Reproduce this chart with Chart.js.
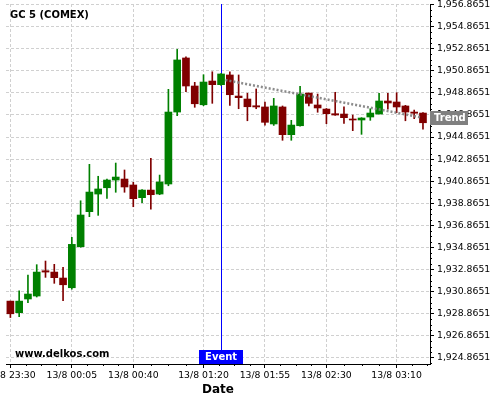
<!DOCTYPE html>
<html>
<head>
<meta charset="utf-8">
<script src="https://cdn.jsdelivr.net/npm/chart.js@4/dist/chart.umd.min.js"></script>
<style>
    html, body { margin: 0; padding: 0; background: #fff; }
    #wrap { width: 500px; height: 400px; }
</style>
</head>
<body>
<div id="wrap"><canvas id="gcChart" width="500" height="400"></canvas></div>
<script>
// 5 minute candles, 12/8 23:30 .. 13/8 03:25
const openVals  = [1930.00, 1928.95, 1930.19, 1930.46, 1932.75, 1932.63, 1932.09, 1931.21, 1934.93, 1938.10,
                   1939.70, 1940.27, 1940.97, 1941.06, 1940.52, 1939.37, 1940.06, 1939.70, 1940.61, 1947.13,
                   1952.03, 1949.49, 1947.79, 1949.94, 1949.61, 1950.49, 1948.58, 1948.31, 1947.70, 1947.59,
                   1946.05, 1947.59, 1945.08, 1945.89, 1948.85, 1947.77, 1947.40, 1946.98, 1946.95, 1946.50,
                   1946.41, 1946.68, 1946.95, 1948.13, 1948.04, 1947.68, 1947.13, 1947.04];
const highVals  = [1930.00, 1930.94, 1932.36, 1933.30, 1933.63, 1933.33, 1933.06, 1935.78, 1939.09, 1942.39,
                   1941.31, 1941.06, 1942.51, 1941.88, 1940.76, 1940.10, 1942.94, 1941.42, 1949.19, 1952.81,
                   1952.14, 1949.82, 1950.51, 1950.78, 1950.62, 1950.78, 1950.49, 1948.83, 1949.22, 1948.04,
                   1948.37, 1947.68, 1946.38, 1949.46, 1948.85, 1948.76, 1947.45, 1948.92, 1947.61, 1946.86,
                   1946.62, 1947.43, 1948.83, 1948.83, 1948.88, 1947.74, 1947.31, 1947.08];
const lowVals   = [1928.51, 1928.58, 1929.85, 1930.37, 1932.15, 1931.61, 1930.03, 1931.07, 1934.87, 1937.65,
                   1937.77, 1939.31, 1939.86, 1939.86, 1938.55, 1938.91, 1938.32, 1939.64, 1940.45, 1946.80,
                   1948.97, 1947.56, 1947.70, 1947.92, 1949.55, 1947.74, 1947.43, 1946.34, 1947.43, 1945.95,
                   1945.92, 1944.57, 1944.57, 1945.84, 1947.68, 1947.11, 1946.07, 1946.83, 1946.11, 1945.44,
                   1945.11, 1946.38, 1946.95, 1947.38, 1947.07, 1946.34, 1946.53, 1945.57];
const closeVals = [1928.85, 1930.00, 1930.64, 1932.63, 1932.63, 1932.12, 1931.48, 1935.14, 1937.80, 1939.88,
                   1940.16, 1940.97, 1941.24, 1940.34, 1939.28, 1940.06, 1939.64, 1940.79, 1947.13, 1951.85,
                   1949.49, 1947.88, 1949.85, 1949.61, 1950.58, 1948.70, 1948.43, 1947.61, 1947.59, 1946.20,
                   1947.68, 1945.08, 1945.95, 1948.76, 1947.92, 1947.50, 1946.98, 1946.86, 1946.62, 1946.41,
                   1946.59, 1947.04, 1948.13, 1947.95, 1947.59, 1947.13, 1947.02, 1946.16];

// x axis labels (candle index -> time)
const xTickIndex  = [0, 7, 14, 22, 29, 36, 44];
const xTickLabels = ['12/8 23:30', '13/8 00:05', '13/8 00:40', '13/8 01:20', '13/8 01:55', '13/8 02:30', '13/8 03:10'];
const xMinorTicks = [1.75, 3.5, 5.25, 8.75, 10.5, 12.25, 16, 18, 20, 23.75, 25.5, 27.25,
                     30.75, 32.5, 34.25, 38, 40, 42, 45.75, 47.5];

const yTicks = [1924.8651, 1926.8651, 1928.8651, 1930.8651, 1932.8651, 1934.8651, 1936.8651, 1938.8651, 1940.8651,
                1942.8651, 1944.8651, 1946.8651, 1948.8651, 1950.8651, 1952.8651, 1954.8651, 1956.8651];
const yMinorStep = 0.5;

// trend line and event marker
const trendX = [24.5, 46.7];
const trendY = [1950.03, 1946.66];
const eventIndex = 24;

const GREEN = '#008000';
const RED = '#800000';
const FONT = "'DejaVu Sans', sans-serif";

const candleColor = ctx => closeVals[ctx.dataIndex] >= openVals[ctx.dataIndex] ? GREEN : RED;

const overlay = {
    id: 'overlay',
    beforeDatasetsDraw(chart) {
        const { ctx, chartArea } = chart;
        const x = Math.round(chart.scales.x.getPixelForValue(eventIndex)) + 0.5;
        ctx.save();
        ctx.strokeStyle = '#0000ff';
        ctx.lineWidth = 1;
        ctx.beginPath();
        ctx.moveTo(x, chartArea.top);
        ctx.lineTo(x, chartArea.bottom - 14);
        ctx.stroke();
        ctx.restore();
    },
    afterDraw(chart) {
        const { ctx, chartArea } = chart;
        const xs = chart.scales.x, ys = chart.scales.y;
        ctx.save();

        // minor ticks
        ctx.strokeStyle = '#000';
        ctx.lineWidth = 1;
        ctx.beginPath();
        xMinorTicks.forEach(v => {
            const px = Math.round(xs.getPixelForValue(v)) + 0.5;
            ctx.moveTo(px, chartArea.bottom);
            ctx.lineTo(px, chartArea.bottom + 2);
        });
        for (let v = yTicks[0] - yMinorStep; v <= ys.max; v += yMinorStep) {
            if (v < ys.min) continue;
            if (yTicks.some(t => Math.abs(t - v) < 1e-6)) continue;
            const py = Math.round(ys.getPixelForValue(v)) + 0.5;
            ctx.moveTo(chartArea.right, py);
            ctx.lineTo(chartArea.right + 2, py);
        }
        ctx.stroke();

        // title + watermark
        ctx.fillStyle = '#000';
        ctx.font = 'bold 10px ' + FONT;
        ctx.textBaseline = 'middle';
        ctx.textAlign = 'left';
        ctx.fillText('GC 5 (COMEX)', 10, 15.5);
        ctx.fillText('www.delkos.com', 15, 354);

        // event label
        const ex = xs.getPixelForValue(eventIndex);
        ctx.fillStyle = '#0000ff';
        ctx.fillRect(Math.round(ex - 22), chartArea.bottom - 14, 44, 14);
        ctx.fillStyle = '#fff';
        ctx.textAlign = 'center';
        ctx.fillText('Event', ex, chartArea.bottom - 7);

        // trend label
        const ty = ys.getPixelForValue(trendY[trendY.length - 1]);
        ctx.fillStyle = '#808080';
        ctx.fillRect(chartArea.right, Math.round(ty - 6), 38, 14);
        ctx.fillStyle = '#fff';
        ctx.textAlign = 'left';
        ctx.fillText('Trend', chartArea.right + 4, ty + 1);

        ctx.restore();
    }
};

document.addEventListener('DOMContentLoaded', function () {
    const ctx = document.getElementById('gcChart').getContext('2d');

    new Chart(ctx, {
        type: 'bar',
        data: {
            datasets: [
                {
                    type: 'line',
                    data: trendX.map((x, i) => ({ x: x, y: trendY[i] })),
                    borderColor: 'rgba(128,128,128,0.9)',
                    borderWidth: 2.5,
                    borderDash: [2, 2],
                    pointRadius: 0,
                    fill: false
                },
                {
                    data: openVals.map((o, i) => ({ x: i, y: [o, closeVals[i]] })),
                    backgroundColor: candleColor,
                    barThickness: 7,
                    borderWidth: 0,
                    grouped: false
                },
                {
                    data: lowVals.map((l, i) => ({ x: i, y: [l, highVals[i]] })),
                    backgroundColor: candleColor,
                    barThickness: 1,
                    borderWidth: 0,
                    grouped: false
                }
            ]
        },
        options: {
            responsive: false,
            animation: false,
            layout: { padding: { left: 6, top: 4, right: 0, bottom: 0 } },
            plugins: {
                legend: { display: false },
                tooltip: { enabled: false }
            },
            scales: {
                x: {
                    type: 'linear',
                    min: -0.5,
                    max: 47.8,
                    offset: false,
                    afterBuildTicks: s => { s.ticks = xTickIndex.map(v => ({ value: v })); },
                    afterFit: s => { s.height = 36; s.paddingLeft = 0; s.paddingRight = 0; },
                    ticks: {
                        autoSkip: false,
                        maxRotation: 0,
                        color: '#000',
                        padding: 2,
                        font: { family: FONT, size: 9.3 },
                        callback: v => xTickLabels[xTickIndex.indexOf(v)]
                    },
                    grid: { offset: false, color: '#d0d0d0', tickColor: '#000', tickLength: 4 },
                    border: { display: true, color: '#000', width: 1, dash: [3, 2] },
                    title: {
                        display: true,
                        text: 'Date',
                        color: '#000',
                        padding: { top: 0, bottom: 3 },
                        font: { family: FONT, size: 12, weight: 'bold' }
                    }
                },
                y: {
                    position: 'right',
                    min: 1924.3,
                    max: 1956.92,
                    afterBuildTicks: s => { s.ticks = yTicks.map(v => ({ value: v })); },
                    afterFit: s => { s.width = 70; s.paddingTop = 0; s.paddingBottom = 0; },
                    ticks: {
                        color: '#000',
                        padding: 3,
                        font: { family: FONT, size: 9.3 },
                        callback: v => v.toLocaleString('en-US', { minimumFractionDigits: 4, maximumFractionDigits: 4 })
                    },
                    grid: { color: '#d0d0d0', tickColor: '#000', tickLength: 4 },
                    border: { display: true, color: '#000', width: 1, dash: [3, 2] }
                }
            }
        },
        plugins: [overlay]
    });
});
</script>
</body>
</html>
